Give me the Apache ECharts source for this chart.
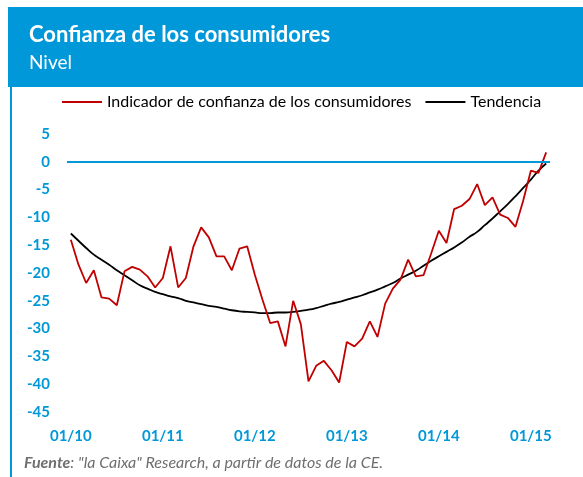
<!DOCTYPE html>
<html lang="es">
<head>
    <meta charset="UTF-8">
    <title>Confianza de los consumidores</title>
    <style>
        html, body { margin: 0; padding: 0; background: #fff; }
    </style>
</head>
<body>
<div id="chart-box" style="height:477px;width:583px"></div>
<script src="https://cdn.jsdelivr.net/npm/echarts@6/dist/echarts.min.js"></script>
<script>
// meses desde 01/2010 hasta 03/2015
var years = ['10', '11', '12', '13', '14', '15'];
var months = ['01','02','03','04','05','06','07','08','09','10','11','12'];
var categories = [];
years.forEach(function (y) {
    months.forEach(function (m) {
        if (y === '15' && Number(m) > 3) return;
        categories.push(m + '/' + y);
    });
});

// indicador mensual
var indicador = [
    -14.0, -18.5, -21.8, -19.5, -24.4, -24.6, -25.8, -19.7, -18.9, -19.4, -20.6, -22.6,
    -20.9, -15.2, -22.6, -20.9, -15.2, -11.8, -13.6, -17.0, -17.0, -19.5, -15.6, -15.2,
    -20.3, -24.8, -29.0, -28.7, -33.2, -25.0, -29.2, -39.5, -36.7, -35.8, -37.5, -39.7,
    -32.4, -33.2, -31.8, -28.7, -31.5, -25.5, -22.8, -21.2, -17.6, -20.6, -20.4, -16.5,
    -12.4, -14.6, -8.5, -7.9, -6.7, -4.0, -7.8, -6.4, -9.5, -10.1, -11.7, -7.0,
    -1.6, -2.0, 1.7
];

// tendencia
var tendencia = [
    -12.9, -14.2, -15.5, -16.7, -17.6, -18.5, -19.5, -20.4, -21.3, -22.2, -22.8, -23.4,
    -23.8, -24.2, -24.5, -25.0, -25.3, -25.6, -25.9, -26.1, -26.4, -26.7, -26.9, -27.0,
    -27.1, -27.2, -27.2, -27.1, -27.1, -27.0, -26.8, -26.6, -26.3, -25.9, -25.5, -25.2,
    -24.8, -24.4, -24.0, -23.5, -23.0, -22.4, -21.8, -21.0, -20.3, -19.6, -18.7, -17.8,
    -17.0, -16.2, -15.4, -14.5, -13.5, -12.6, -11.4, -10.2, -8.9, -7.6, -6.2, -4.7,
    -3.2, -1.6, -0.3
];

var azul = '#0098d8';
var fuente = 'Lato, "Noto Sans", sans-serif';

var option = {
    animation: false,
    textStyle: { fontFamily: fuente },
    graphic: [
        { type: 'rect', left: 8, top: 7, shape: { width: 575, height: 80 }, style: { fill: azul }, silent: true },
        { type: 'rect', left: 10, top: 87, shape: { width: 2, height: 390 }, style: { fill: azul }, silent: true },
        {
            type: 'text', left: 24, top: 455,
            style: {
                rich: {
                    b: { fontFamily: fuente, fontSize: 16, fontStyle: 'italic', fontWeight: 'bold', fill: '#6f6f6f' },
                    n: { fontFamily: fuente, fontSize: 16, fontStyle: 'italic', fill: '#6f6f6f' }
                },
                text: '{b|Fuente}{n|: "la Caixa" Research, a partir de datos de la CE.}'
            }
        }
    ],
    title: {
        text: 'Confianza de los consumidores',
        subtext: 'Nivel',
        left: 24,
        top: 19,
        itemGap: 7,
        textStyle: { color: '#fff', fontSize: 22, fontWeight: 'bold', fontFamily: fuente },
        subtextStyle: { color: '#fff', fontSize: 19, fontFamily: fuente }
    },
    legend: {
        left: 57,
        top: 89,
        itemWidth: 40,
        itemHeight: 2,
        itemGap: 14,
        icon: 'rect',
        textStyle: { fontSize: 16, color: '#000', fontFamily: fuente },
        data: ['Indicador de confianza de los consumidores', 'Tendencia']
    },
    grid: { left: 67, right: 33, top: 134, bottom: 65 },
    xAxis: {
        type: 'category',
        data: categories,
        boundaryGap: true,
        axisLine: { show: false, onZero: false },
        axisTick: { show: false },
        splitLine: { show: false },
        axisLabel: {
            interval: 11,
            margin: 17,
            color: azul,
            fontWeight: 'bold',
            fontSize: 15,
            fontFamily: fuente
        }
    },
    yAxis: {
        type: 'value',
        min: -45,
        max: 5,
        interval: 5,
        axisLine: { show: false },
        axisTick: { show: false },
        splitLine: { show: false },
        axisLabel: {
            margin: 17,
            color: azul,
            fontWeight: 'bold',
            fontSize: 15,
            fontFamily: fuente
        }
    },
    series: [
        {
            name: 'Indicador de confianza de los consumidores',
            type: 'line',
            data: indicador,
            symbol: 'none',
            z: 3,
            lineStyle: { color: '#c00000', width: 1.8 },
            itemStyle: { color: '#c00000' },
            markLine: {
                silent: true,
                symbol: 'none',
                label: { show: false },
                lineStyle: { color: azul, width: 2, type: 'solid' },
                data: [{ yAxis: 0 }]
            }
        },
        {
            name: 'Tendencia',
            type: 'line',
            data: tendencia,
            symbol: 'none',
            smooth: true,
            z: 2,
            lineStyle: { color: '#000', width: 1.8 },
            itemStyle: { color: '#000' }
        }
    ]
};

var chart = echarts.init(document.getElementById('chart-box'));
chart.setOption(option);
</script>
</body>
</html>
